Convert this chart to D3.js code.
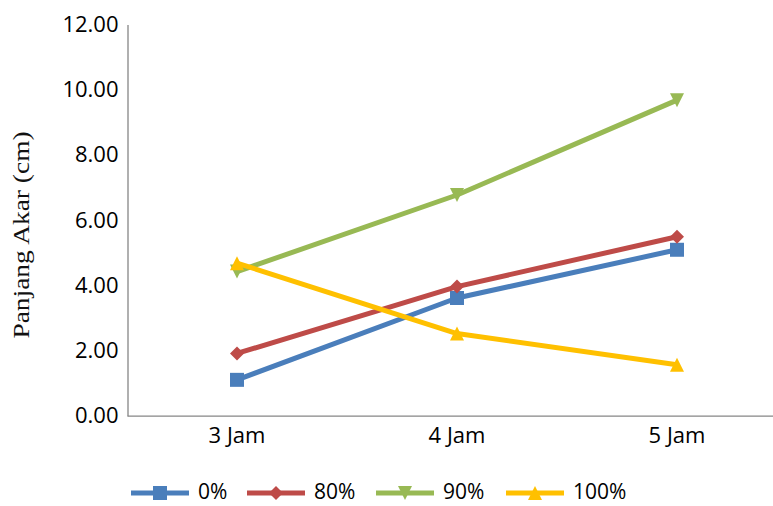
<!DOCTYPE html>
<html>
<head>
<meta charset="utf-8">
<script src="https://cdn.jsdelivr.net/npm/d3@7/dist/d3.min.js"></script>
<style>
  html, body { margin: 0; padding: 0; background: #fff; }
  svg { display: block; }
</style>
</head>
<body>
<svg id="chart" width="773" height="506"></svg>
<script>
// Root length (cm) after soaking time, per treatment concentration
const categories = ["3 Jam", "4 Jam", "5 Jam"];
const seriesNames = ["0%", "80%", "90%", "100%"];
const values0 = [1.10, 3.61, 5.09];
const values80 = [1.91, 3.96, 5.49];
const values90 = [4.42, 6.77, 9.68];
const values100 = [4.68, 2.52, 1.56];
const yTicks = [0, 2, 4, 6, 8, 10, 12];

const colors = ["#4A7EBB", "#BE4B48", "#98B954", "#FFC000"];
const markers = ["square", "diamond", "down", "up"];
const seriesValues = [values0, values80, values90, values100];

const svg = d3.select("#chart");

const x = d3.scaleBand().domain(categories).range([127, 787]).paddingInner(0).paddingOuter(0);
const y = d3.scaleLinear().domain([0, 12]).range([415.7, 24.5]);

const tickFont = "'Open Sans', 'Liberation Sans', sans-serif";
const tickSize = 22;

// Y axis
const yAxis = svg.append("g")
  .attr("transform", "translate(127.5,0)")
  .call(d3.axisLeft(y).tickValues(yTicks).tickFormat(d3.format(".2f")).tickSize(0).tickPadding(9));
yAxis.select(".domain").attr("stroke", "#868686").attr("stroke-width", 1.3);
yAxis.selectAll("text").attr("font-family", tickFont).attr("font-size", tickSize).attr("fill", "#000");

// X axis
const xAxis = svg.append("g")
  .attr("transform", "translate(0,415.7)")
  .call(d3.axisBottom(x).tickSize(0).tickPadding(12));
xAxis.select(".domain").attr("stroke", "#868686").attr("stroke-width", 1.3);
xAxis.selectAll("text").attr("font-family", tickFont).attr("font-size", tickSize).attr("fill", "#000");

// Y axis title
svg.append("text")
  .attr("transform", "translate(29,235) rotate(-90) scale(1.22,1)")
  .attr("text-anchor", "middle")
  .attr("font-family", "'Liberation Serif', 'DejaVu Serif', serif")
  .attr("font-size", 22.5)
  .attr("fill", "#111")
  .text("Panjang Akar (cm)");

function markerPath(kind, s) {
  const h = s / 2;
  switch (kind) {
    case "square": return `M${-h},${-h}H${h}V${h}H${-h}Z`;
    case "diamond": return `M0,${-h}L${h},0L0,${h}L${-h},0Z`;
    case "down": return `M${-h},${-h}L${h},${-h}L0,${h}Z`;
    case "up": return `M0,${-h}L${h},${h}L${-h},${h}Z`;
  }
}

const line = d3.line()
  .x((d, i) => x(categories[i]) + x.bandwidth() / 2)
  .y(d => y(d));

const plot = svg.append("g");
seriesValues.forEach((vals, s) => {
  const g = plot.append("g");
  g.append("path")
    .attr("d", line(vals))
    .attr("fill", "none")
    .attr("stroke", colors[s])
    .attr("stroke-width", 5)
    .attr("stroke-linejoin", "round");
  g.selectAll("path.m").data(vals).join("path")
    .attr("class", "m")
    .attr("transform", (d, i) => `translate(${x(categories[i]) + x.bandwidth() / 2},${y(d)})`)
    .attr("d", markerPath(markers[s], 14))
    .attr("fill", colors[s]);
});

// Legend
const legendX = [131, 247, 376, 506];
const legend = svg.append("g").attr("transform", "translate(0,493)");
seriesNames.forEach((name, s) => {
  const g = legend.append("g").attr("transform", `translate(${legendX[s]},0)`);
  g.append("line").attr("x1", 0).attr("x2", 58).attr("y1", 0).attr("y2", 0)
    .attr("stroke", colors[s]).attr("stroke-width", 5);
  g.append("path").attr("transform", "translate(29,0)")
    .attr("d", markerPath(markers[s], 14)).attr("fill", colors[s]);
  g.append("text").attr("x", 67).attr("y", -1).attr("dy", "0.35em")
    .attr("font-family", tickFont).attr("font-size", 21).attr("fill", "#000")
    .text(name);
});
</script>
</body>
</html>
